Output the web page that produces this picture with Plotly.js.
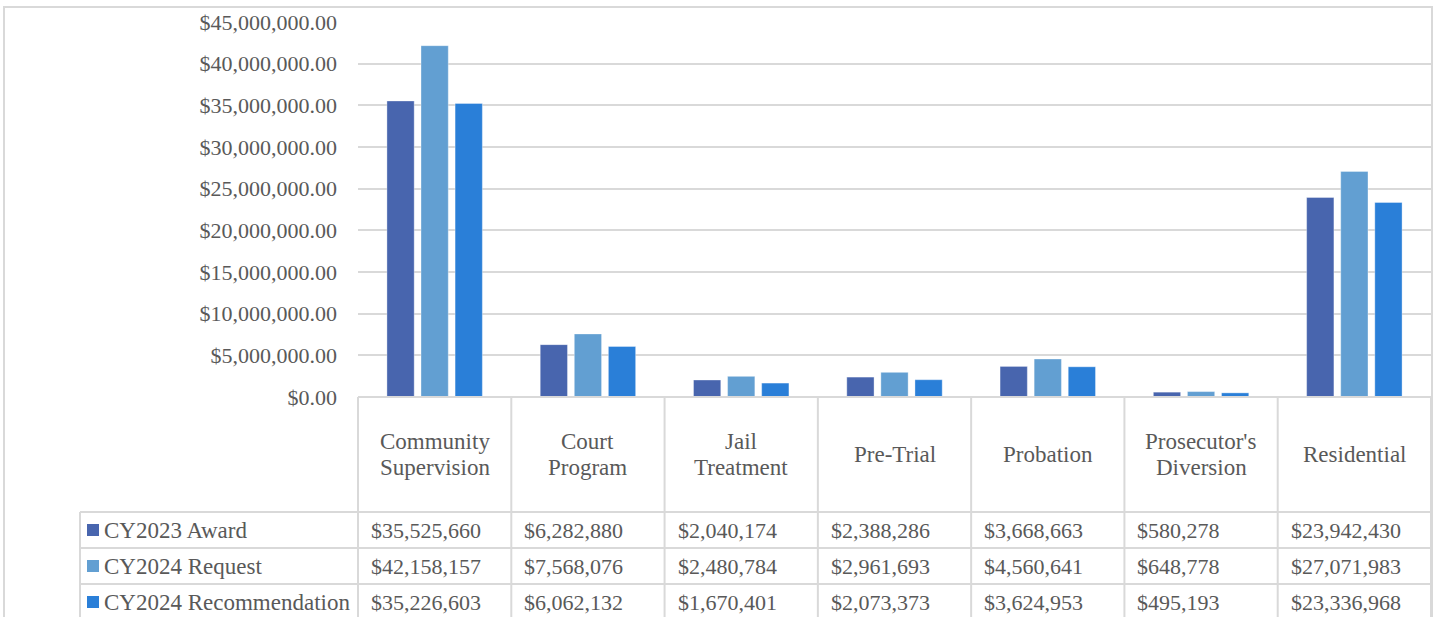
<!DOCTYPE html>
<html>
<head>
<meta charset="utf-8">
<script src="https://cdn.plot.ly/plotly-3.0.1.min.js"></script>
<style>html,body{margin:0;padding:0;background:#fff;}#chart{width:1437px;height:617px;}</style>
</head>
<body>
<div id="chart"></div>
<script>
const categories = ['Community Supervision', 'Court Program', 'Jail Treatment', 'Pre-Trial', 'Probation', "Prosecutor's Diversion", 'Residential'];
const seriesNames = ['CY2023 Award', 'CY2024 Request', 'CY2024 Recommendation'];
const award2023 = [35525660, 6282880, 2040174, 2388286, 3668663, 580278, 23942430];
const request2024 = [42158157, 7568076, 2480784, 2961693, 4560641, 648778, 27071983];
const recommend2024 = [35226603, 6062132, 1670401, 2073373, 3624953, 495193, 23336968];
const colors = ['#4865AE', '#629FD2', '#2A7FD8'];
const seriesValues = [award2023, request2024, recommend2024];

const W = 1437, H = 617;
const L = 358, R = 1431, T = 22, B = 397;
const px = v => (v - L) / (R - L);
const py = v => (B - v) / (B - T);
const colW = (R - L) / categories.length;
const rowLines = [512, 548, 584, 620];
const legendLeft = 80;
const lineColor = '#d9d9d9';
const textColor = '#595959';
const font = 'Liberation Serif';

const traces = seriesValues.map((vals, i) => ({
  type: 'bar',
  name: seriesNames[i],
  x: categories,
  y: vals,
  marker: {color: colors[i], line: {color: 'rgba(255,255,255,0.35)', width: 1}},
  hoverinfo: 'x+y+name'
}));

const shapes = [];
const line = (x0, y0, x1, y1) => shapes.push({type: 'line', xref: 'paper', yref: 'paper',
  x0: px(x0), y0: py(y0), x1: px(x1), y1: py(y1), line: {color: lineColor, width: 2}});
shapes.push({type: 'rect', xref: 'paper', yref: 'paper', x0: px(4), x1: px(1432), y0: py(7), y1: py(640),
  line: {color: lineColor, width: 2}, fillcolor: 'rgba(0,0,0,0)', layer: 'below'});
line(L, B, R, B);
rowLines.forEach(y => line(legendLeft, y, R, y));
for (let k = 0; k <= categories.length; k++) line(L + k * colW, B, L + k * colW, 640);
line(legendLeft, rowLines[0], legendLeft, 640);

const annotations = [];
const headerMid = (B + rowLines[0]) / 2;
const headerLineGap = 26;
categories.forEach((c, i) => {
  const words = c.split(' ');
  words.forEach((w, j) => annotations.push({
    xref: 'x', yref: 'paper', x: i,
    y: py(headerMid + (j - (words.length - 1) / 2) * headerLineGap), text: w,
    showarrow: false, xanchor: 'center', yanchor: 'middle', align: 'center',
    font: {family: font, size: 23, color: textColor}
  }));
});
seriesValues.forEach((vals, r) => {
  const yc = (rowLines[r] + rowLines[r + 1]) / 2;
  annotations.push({xref: 'paper', yref: 'paper', x: px(102), y: py(yc), text: seriesNames[r],
    showarrow: false, xanchor: 'left', yanchor: 'middle', font: {family: font, size: 23, color: textColor}});
  shapes.push({type: 'rect', xref: 'paper', yref: 'paper', x0: px(87), x1: px(99), y0: py(yc - 6), y1: py(yc + 6),
    fillcolor: colors[r], line: {width: 0}});
  vals.forEach((v, i) => annotations.push({
    xref: 'paper', yref: 'paper', x: px(L + i * colW + 11), y: py(yc),
    text: '$' + v.toLocaleString('en-US'), showarrow: false, xanchor: 'left', yanchor: 'middle',
    font: {family: font, size: 22, color: textColor}
  }));
});

const layout = {
  width: W, height: H,
  margin: {l: L, r: W - R, t: T, b: H - B, pad: 0},
  paper_bgcolor: '#fff', plot_bgcolor: '#fff',
  showlegend: false,
  font: {family: font, color: textColor},
  barmode: 'group', bargap: 0.333, bargroupgap: 0.2,
  xaxis: {showticklabels: false, showgrid: false, zeroline: false, showline: false, ticks: '', fixedrange: true},
  yaxis: {range: [0, 45000000], dtick: 5000000, tickprefix: '$', tickformat: ',.2f',
    showgrid: true, gridcolor: lineColor, gridwidth: 2, zeroline: false, showline: false,
    ticks: '', ticklabelstandoff: 20,
    tickfont: {family: font, size: 22, color: textColor}, fixedrange: true},
  shapes: shapes,
  annotations: annotations
};

Plotly.newPlot('chart', traces, layout, {displayModeBar: false, staticPlot: true});
</script>
</body>
</html>
